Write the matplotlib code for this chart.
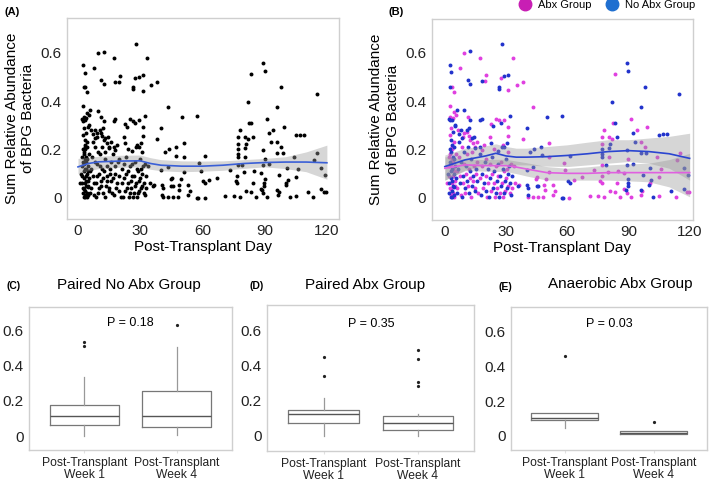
import matplotlib
matplotlib.use("Agg")
import matplotlib.pyplot as plt
from matplotlib.lines import Line2D

plt.rcParams['font.family'] = ['Liberation Sans', 'DejaVu Sans']

# ---------- DATA ----------
# Abx group points: (day, sum relative abundance)
abx_pts = [
    # dense early column / early weeks
    (1.0, 0.06), (1.8, 0.13), (2.1, 0.09), (2.4, 0.04), (2.7, 0.18), (3.0, 0.14), (3.2, 0.01),
    (3.4, 0.16), (3.6, 0.20), (3.9, 0.09), (4.1, 0.12), (4.2, 0.02), (4.4, 0.23), (4.8, 0.07),
    (5.0, 0.05), (2.5, 0.26), (3.1, 0.29), (3.8, 0.33), (4.5, 0.003), (2.0, 0.17), (3.5, 0.06),
    (4.0, 0.15), (2.8, 0.035), (4.7, 0.11), (3.3, 0.21), (5.4, 0.18),
    (5.8, 0.11), (6.2, 0.04), (6.8, 0.17), (7.2, 0.09), (7.8, 0.01), (8.2, 0.21), (8.8, 0.06),
    (9.2, 0.14), (9.8, 0.02), (10.2, 0.10), (10.8, 0.18), (11.2, 0.05), (11.8, 0.12), (12.2, 0.08),
    (12.8, 0.003), (13.2, 0.19), (13.8, 0.07), (14.2, 0.13), (14.8, 0.04), (15.2, 0.10), (15.8, 0.15),
    (16.5, 0.02), (17.0, 0.08), (18.0, 0.13), (18.5, 0.04), (19.0, 0.22), (20.0, 0.09), (20.5, 0.005),
    (21.0, 0.06), (22.0, 0.14), (22.5, 0.03), (23.0, 0.10), (24.0, 0.06), (24.5, 0.005), (25.0, 0.13),
    (25.5, 0.04), (26.0, 0.09), (27.0, 0.02), (27.5, 0.15), (28.0, 0.06), (28.5, 0.003), (29.0, 0.11),
    (29.5, 0.03), (30.0, 0.08), (30.5, 0.12), (31.0, 0.05), (32.0, 0.02), (32.5, 0.14), (33.0, 0.04),
    (16.0, 0.23), (9.0, 0.25), (20.0, 0.16), (24.0, 0.20), (11.0, 0.27), (31.0, 0.19),
    # upper early points
    (9.6, 0.599), (17.2, 0.578), (33.5, 0.578), (7.5, 0.536), (20.4, 0.506), (19.6, 0.481),
    (27.3, 0.495), (31.2, 0.444), (3.4, 0.458), (4.3, 0.436),
    (2.4, 0.38), (4.3, 0.353), (5.4, 0.343), (2.7, 0.336), (11.2, 0.334), (22.8, 0.306),
    (25.2, 0.326), (26.4, 0.32), (29.2, 0.323), (31.2, 0.292), (6.4, 0.281), (11.6, 0.257),
    (12.4, 0.24), (14.0, 0.226), (14.8, 0.212), (9.2, 0.268), (22.0, 0.251), (31.2, 0.254),
    (28.4, 0.219), (18.0, 0.199),
    # days 33-77
    (35.3, 0.465), (38.2, 0.48), (43.4, 0.375), (38.2, 0.243), (50.9, 0.226), (50.9, 0.17),
    (58.2, 0.143), (33.7, 0.132), (51.1, 0.105), (59.1, 0.113), (67.0, 0.084), (73.1, 0.116),
    (63.1, 0.072), (45.3, 0.084), (44.7, 0.078), (49.8, 0.078), (48.7, 0.054), (48.9, 0.033),
    (53.0, 0.051), (54.0, 0.03), (36.5, 0.054), (34.5, 0.06), (41.0, 0.005), (43.4, 0.003),
    (45.8, 0.003), (48.2, 0.003), (53.0, 0.01), (61.0, 0.0), (71.0, 0.008), (75.0, 0.008),
    (76.8, 0.06), (76.1, 0.07), (76.8, 0.09),
    # days 77-120
    (83.2, 0.513), (82.3, 0.309), (91.2, 0.325), (99.1, 0.292), (78.0, 0.279), (94.0, 0.279),
    (77.1, 0.251), (80.6, 0.251), (81.9, 0.244), (96.0, 0.232), (98.0, 0.21), (77.1, 0.223),
    (115.2, 0.187), (80.6, 0.168), (104.0, 0.168), (90.0, 0.161), (113.7, 0.157), (77.1, 0.137),
    (106.0, 0.119), (80.0, 0.105), (85.1, 0.109), (88.0, 0.102), (105.0, 0.086), (100.4, 0.061),
    (84.3, 0.061), (118.6, 0.022), (119.7, 0.022), (113.3, 0.005), (81.1, 0.029), (83.2, 0.022),
    (88.0, 0.036), (89.2, 0.019), (96.7, 0.026), (77.9, 0.005), (85.9, 0.003), (91.2, 0.003),
    (96.4, 0.01), (105.2, 0.008),
]

# No Abx group points: (day, sum relative abundance)
noabx_pts = [
    (1.5, 0.10), (2.0, 0.06), (2.2, 0.02), (2.5, 0.15), (2.8, 0.19), (3.0, 0.005), (3.1, 0.08),
    (3.3, 0.12), (3.5, 0.22), (3.6, 0.03), (3.8, 0.17), (4.0, 0.27), (4.1, 0.05), (4.3, 0.10),
    (4.5, 0.21), (4.7, 0.01), (4.9, 0.13), (5.2, 0.30), (2.6, 0.32), (3.2, 0.24), (2.9, 0.11),
    (3.7, 0.07), (4.4, 0.16), (2.3, 0.20), (3.4, 0.005), (4.6, 0.045),
    (6.0, 0.02), (6.5, 0.12), (7.0, 0.23), (7.5, 0.06), (8.0, 0.15), (8.5, 0.005), (9.0, 0.09),
    (9.5, 0.19), (10.0, 0.04), (10.5, 0.13), (11.0, 0.07), (11.5, 0.21), (12.0, 0.02), (12.5, 0.11),
    (13.0, 0.16), (13.5, 0.05), (14.0, 0.09), (14.5, 0.25), (15.0, 0.03), (15.5, 0.12), (16.0, 0.07),
    (17.0, 0.18), (17.5, 0.01), (18.0, 0.10), (19.0, 0.06), (19.5, 0.15), (20.0, 0.03), (21.0, 0.12),
    (21.5, 0.005), (22.0, 0.08), (23.0, 0.17), (23.5, 0.04), (24.0, 0.11), (25.0, 0.02), (25.5, 0.07),
    (26.0, 0.14), (26.5, 0.005), (27.0, 0.09), (27.5, 0.05), (28.0, 0.21), (28.5, 0.12), (29.0, 0.02),
    (29.5, 0.07), (30.0, 0.16), (30.5, 0.04), (31.0, 0.10), (31.5, 0.13), (32.0, 0.06), (32.5, 0.01),
    (33.0, 0.09), (5.5, 0.08), (8.0, 0.28), (12.0, 0.29), (15.0, 0.205), (26.0, 0.195),
    (28.1, 0.637), (12.4, 0.605), (2.4, 0.55), (3.2, 0.518), (11.2, 0.488), (12.4, 0.47),
    (18.0, 0.481), (29.2, 0.502), (31.2, 0.509), (26.4, 0.458), (26.4, 0.45), (2.7, 0.458),
    (9.6, 0.361), (5.9, 0.364), (1.9, 0.326), (3.5, 0.323), (12.4, 0.32), (18.0, 0.326),
    (17.2, 0.32), (23.6, 0.295), (27.6, 0.311), (32.1, 0.34), (4.8, 0.295), (7.1, 0.265),
    (10.7, 0.281), (13.2, 0.247), (8.3, 0.247), (22.8, 0.226), (29.2, 0.212), (30.5, 0.226),
    (17.2, 0.212),
    (50.3, 0.334), (57.3, 0.339), (40.2, 0.29), (41.9, 0.19), (43.8, 0.2), (47.2, 0.212),
    (47.4, 0.175), (61.4, 0.174), (43.4, 0.128), (40.2, 0.116), (60.5, 0.07), (61.3, 0.06),
    (45.0, 0.05), (45.8, 0.048), (36.0, 0.05), (40.5, 0.052), (40.8, 0.04), (40.7, 0.01),
    (57.3, 0.0), (58.0, 0.0), (77.0, 0.181), (77.0, 0.203),
    (89.2, 0.557), (90.0, 0.523), (98.0, 0.458), (115.0, 0.429), (82.0, 0.396), (96.0, 0.374),
    (83.2, 0.309), (92.0, 0.267), (105.2, 0.258), (107.1, 0.262), (109.0, 0.262), (84.2, 0.251),
    (93.2, 0.229), (81.1, 0.223), (80.3, 0.207), (89.2, 0.199), (96.0, 0.187), (98.8, 0.185),
    (77.1, 0.168), (79.2, 0.137), (89.2, 0.137), (92.0, 0.141), (100.7, 0.123), (117.0, 0.123),
    (90.0, 0.077), (96.9, 0.094), (119.2, 0.094), (101.2, 0.074), (100.1, 0.051), (89.6, 0.061),
    (89.6, 0.05), (117.0, 0.037), (110.8, 0.026), (88.7, 0.033), (96.0, 0.033), (102.0, 0.003),
]

# smoother curves
smooth_days = [0, 5, 10, 20, 30, 35, 40, 50, 60, 70, 80, 90, 100, 110, 120]
all_fit = [0.128, 0.142, 0.149, 0.152, 0.153, 0.142, 0.135, 0.131, 0.131, 0.135, 0.142, 0.146, 0.148, 0.148, 0.145]
all_lo = [0.100, 0.112, 0.121, 0.126, 0.128, 0.118, 0.112, 0.108, 0.110, 0.114, 0.122, 0.128, 0.121, 0.108, 0.077]
all_hi = [0.163, 0.168, 0.172, 0.176, 0.177, 0.166, 0.158, 0.153, 0.152, 0.153, 0.158, 0.163, 0.170, 0.190, 0.218]

grp_days = [0, 10, 20, 25, 30, 35, 40, 50, 60, 70, 80, 90, 100, 110, 120]
noabx_fit = [0.129, 0.157, 0.173, 0.184, 0.173, 0.168, 0.168, 0.170, 0.175, 0.182, 0.191, 0.195, 0.191, 0.182, 0.163]
noabx_lo = [0.073, 0.115, 0.135, 0.143, 0.138, 0.136, 0.136, 0.131, 0.129, 0.136, 0.143, 0.150, 0.143, 0.122, 0.073]
noabx_hi = [0.177, 0.205, 0.215, 0.223, 0.212, 0.205, 0.205, 0.212, 0.219, 0.230, 0.240, 0.240, 0.247, 0.254, 0.267]
abx_fit = [0.122, 0.136, 0.133, 0.133, 0.133, 0.127, 0.119, 0.104, 0.101, 0.101, 0.104, 0.104, 0.104, 0.104, 0.104]
abx_lo = [0.073, 0.112, 0.110, 0.109, 0.108, 0.100, 0.090, 0.073, 0.073, 0.073, 0.073, 0.070, 0.066, 0.045, 0.004]
abx_hi = [0.170, 0.159, 0.158, 0.159, 0.159, 0.152, 0.145, 0.129, 0.122, 0.128, 0.136, 0.140, 0.143, 0.158, 0.184]

# box plot summaries: [whislo, q1, med, q3, whishi], outliers
week_labels = ["Post-Transplant\nWeek 1", "Post-Transplant\nWeek 4"]
box_titles = ["Paired No Abx Group", "Paired Abx Group", "Anaerobic Abx Group"]
box_tags = ["(C)", "(D)", "(E)"]
p_values = ["P = 0.18", "P = 0.35", "P = 0.03"]
box_stats = [
    [[0.004, 0.061, 0.112, 0.178, 0.333], [0.008, 0.051, 0.112, 0.258, 0.506]],
    [[0.0, 0.076, 0.124, 0.150, 0.217], [0.0, 0.032, 0.072, 0.112, 0.128]],
    [[0.048, 0.090, 0.100, 0.129, 0.129], [0.013, 0.013, 0.019, 0.027, 0.027]],
]
box_fliers = [
    [[0.535, 0.51], [0.629]],
    [[0.451, 0.345], [0.493, 0.442, 0.309, 0.284]],
    [[0.46], [0.077]],
]

MAG = "#e040e0"
BLU = "#2233cc"
GRAY_EDGE = "#cfcfcf"


def style_axes(ax):
    for sp in ax.spines.values():
        sp.set_color(GRAY_EDGE)
        sp.set_linewidth(1.0)
    ax.tick_params(length=0, labelsize=11, colors="#222222", pad=4)


fig = plt.figure(figsize=(7.09, 4.82), dpi=100)

ax_a = fig.add_axes([0.0945, 0.546, 0.3835, 0.417])
ax_b = fig.add_axes([0.609, 0.544, 0.368, 0.417])

all_pts = abx_pts + noabx_pts
ax_a.scatter([p[0] for p in all_pts], [p[1] for p in all_pts], s=8, color="black", linewidths=0, zorder=2)
ax_a.fill_between(smooth_days, all_lo, all_hi, color="#999999", alpha=0.4, linewidth=0, zorder=3)
ax_a.plot(smooth_days, all_fit, color="#3a5fd6", lw=1.2, zorder=4)

ax_b.scatter([p[0] for p in abx_pts], [p[1] for p in abx_pts], s=8, color=MAG, linewidths=0, zorder=2)
ax_b.scatter([p[0] for p in noabx_pts], [p[1] for p in noabx_pts], s=8, color=BLU, linewidths=0, zorder=2)
ax_b.fill_between(grp_days, noabx_lo, noabx_hi, color="#999999", alpha=0.4, linewidth=0, zorder=3)
ax_b.fill_between(grp_days, abx_lo, abx_hi, color="#999999", alpha=0.4, linewidth=0, zorder=3)
ax_b.plot(grp_days, noabx_fit, color="#2a45d0", lw=1.2, zorder=4)
ax_b.plot(grp_days, abx_fit, color="#e060e0", lw=1.2, zorder=4)

for ax, xlim, ylim in [(ax_a, (-5.3, 125.8), (-0.087, 0.745)), (ax_b, (-6.4, 121.5), (-0.091, 0.74))]:
    style_axes(ax)
    ax.set_xlim(*xlim)
    ax.set_ylim(*ylim)
    ax.set_xticks([0, 30, 60, 90, 120])
    ax.set_yticks([0, 0.2, 0.4, 0.6])
    ax.set_yticklabels(["0", "0.2", "0.4", "0.6"])
    ax.set_xlabel("Post-Transplant Day", fontsize=11, labelpad=1)
    ax.set_ylabel("Sum Relative Abundance\nof BPG Bacteria", fontsize=11, labelpad=4)

fig.text(0.007, 0.985, "(A)", fontsize=8, fontweight="bold", va="top")
fig.text(0.548, 0.985, "(B)", fontsize=8, fontweight="bold", va="top")

# legend for panel B
handles = [Line2D([], [], marker="o", ls="", color="#c81eb4", markersize=9),
           Line2D([], [], marker="o", ls="", color="#1f6fd0", markersize=9)]
fig.legend(handles, ["Abx Group", "No Abx Group"], loc="upper right", bbox_to_anchor=(0.995, 1.02),
           ncol=2, frameon=False, fontsize=8, handletextpad=0.2, columnspacing=0.8)

# ---------- BOX PLOTS ----------
box_rects = [[0.041, 0.066, 0.286, 0.297], [0.377, 0.064, 0.292, 0.303], [0.721, 0.066, 0.276, 0.297]]
box_ylims = [(-0.079, 0.73), (-0.087, 0.747), (-0.082, 0.74)]
tag_pos = [(0.009, 0.407), (0.352, 0.407), (0.703, 0.405)]
title_pos = [(0.182, 0.409), (0.515, 0.409), (0.875, 0.410)]

for i in range(3):
    ax = fig.add_axes(box_rects[i])
    stats = []
    for j in range(2):
        lo, q1, med, q3, hi = box_stats[i][j]
        stats.append(dict(whislo=lo, q1=q1, med=med, q3=q3, whishi=hi, fliers=box_fliers[i][j]))
    ax.bxp(stats, positions=[1, 2], widths=0.75, showcaps=False,
           boxprops=dict(color="#777777", lw=0.9),
           whiskerprops=dict(color="#999999", lw=0.9),
           medianprops=dict(color="#555555", lw=1.0),
           flierprops=dict(marker="o", markersize=1.3, markerfacecolor="#222222",
                           markeredgecolor="#222222", ls=""))
    style_axes(ax)
    ax.set_xlim(0.4, 2.6)
    ax.set_ylim(*box_ylims[i])
    ax.set_yticks([0, 0.2, 0.4, 0.6])
    ax.set_yticklabels(["0", "0.2", "0.4", "0.6"])
    ax.set_xticks([1, 2])
    ax.set_xticklabels(week_labels, fontsize=8.7, linespacing=1.0)
    ax.tick_params(axis="x", length=2, color="#e0e0e0", pad=3)
    ax.text(1.5, 0.64, p_values[i], ha="center", va="center", fontsize=9)
    fig.text(title_pos[i][0], title_pos[i][1], box_titles[i], ha="center", va="center", fontsize=11)
    fig.text(tag_pos[i][0], tag_pos[i][1], box_tags[i], fontsize=7.5, fontweight="bold", va="center")

fig.savefig("out.png", dpi=100)
